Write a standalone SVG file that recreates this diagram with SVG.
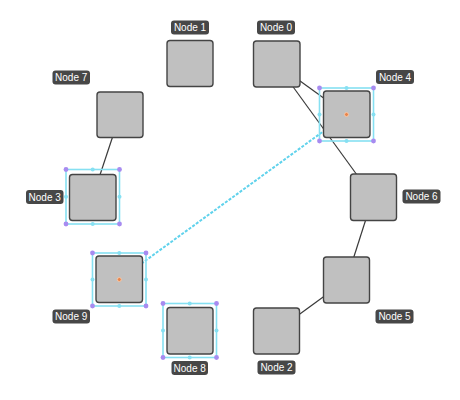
<svg xmlns="http://www.w3.org/2000/svg" width="460" height="400" viewBox="0 0 460 400">
<style>
.box{fill:#c0c0c0;stroke:#444;stroke-width:1.4}
.lbl{fill:#474747}
.lt{fill:#fff;font-family:"Liberation Sans",Arial,sans-serif;font-size:10px;text-anchor:middle}
.edge{stroke:#3a3a3a;stroke-width:1.2;fill:none}
.sel{fill:none;stroke:#86e0f2;stroke-width:1.6}
.corner{fill:#a78bf0}
.mid{fill:#86e0f2}
.ctr{fill:#e8844a;stroke:#f6c6a6;stroke-width:1}
</style>
<rect width="460" height="400" fill="#fff"/>
<g id="connectors">
<line class="edge" x1="276.5" y1="64" x2="346.5" y2="114.5"/>
<line class="edge" x1="276.5" y1="64" x2="373" y2="197"/>
<line class="edge" x1="373" y1="197" x2="346.5" y2="280"/>
<line class="edge" x1="346.5" y1="280" x2="276.5" y2="331"/>
<line class="edge" x1="120" y1="114.5" x2="92.5" y2="197.5"/>
<line x1="119.5" y1="279.5" x2="346.5" y2="114.5" stroke="#5fd2ec" stroke-width="2" stroke-dasharray="3 1.5"/>
</g>
<g id="node0">
<rect class="box" x="253.5" y="41" width="46.5" height="46" rx="3"/>
<rect class="lbl" x="257" y="20.5" width="38" height="14" rx="3"/>
<text class="lt" x="276" y="31">Node 0</text>
</g>
<g id="node1">
<rect class="box" x="167" y="40.5" width="46" height="46" rx="3"/>
<rect class="lbl" x="171" y="20.5" width="38" height="14" rx="3"/>
<text class="lt" x="190" y="31">Node 1</text>
</g>
<g id="node2">
<rect class="box" x="253.5" y="308" width="46" height="46" rx="3"/>
<rect class="lbl" x="257.5" y="360.5" width="38" height="14" rx="3"/>
<text class="lt" x="276.5" y="371">Node 2</text>
</g>
<g id="node3">
<rect class="box" x="69.5" y="174.5" width="46.5" height="46" rx="3"/>
<rect class="sel" x="66" y="169.5" width="53.5" height="54.5"/>
<circle class="mid" cx="92.7" cy="169.5" r="2"/>
<circle class="mid" cx="92.7" cy="224" r="2"/>
<circle class="mid" cx="66" cy="196.7" r="2"/>
<circle class="mid" cx="119.5" cy="196.7" r="2"/>
<circle class="corner" cx="66" cy="169.5" r="2.4"/>
<circle class="corner" cx="119.5" cy="169.5" r="2.4"/>
<circle class="corner" cx="66" cy="224" r="2.4"/>
<circle class="corner" cx="119.5" cy="224" r="2.4"/>
<rect class="lbl" x="26" y="190" width="37.5" height="14" rx="3"/>
<text class="lt" x="44.7" y="200.5">Node 3</text>
</g>
<g id="node4">
<rect class="box" x="323.5" y="91" width="46.5" height="46.5" rx="3"/>
<rect class="sel" x="319.5" y="88" width="54" height="53"/>
<circle class="mid" cx="346.5" cy="88" r="2"/>
<circle class="mid" cx="346.5" cy="141" r="2"/>
<circle class="mid" cx="319.5" cy="114.5" r="2"/>
<circle class="mid" cx="373.5" cy="114.5" r="2"/>
<circle class="corner" cx="319.5" cy="88" r="2.4"/>
<circle class="corner" cx="373.5" cy="88" r="2.4"/>
<circle class="corner" cx="319.5" cy="141" r="2.4"/>
<circle class="corner" cx="373.5" cy="141" r="2.4"/>
<circle class="ctr" cx="346.5" cy="114.5" r="2"/>
<rect class="lbl" x="376" y="70" width="38" height="14" rx="3"/>
<text class="lt" x="395" y="80.5">Node 4</text>
</g>
<g id="node5">
<rect class="box" x="323.5" y="257" width="46" height="46" rx="3"/>
<rect class="lbl" x="375.5" y="309.5" width="38" height="14" rx="3"/>
<text class="lt" x="394.5" y="320">Node 5</text>
</g>
<g id="node6">
<rect class="box" x="350.5" y="174" width="46" height="46.5" rx="3"/>
<rect class="lbl" x="402.5" y="189.5" width="38" height="14" rx="3"/>
<text class="lt" x="421.5" y="200">Node 6</text>
</g>
<g id="node7">
<rect class="box" x="97" y="92" width="46" height="45.5" rx="3"/>
<rect class="lbl" x="52.5" y="70.5" width="37.5" height="14" rx="3"/>
<text class="lt" x="71.2" y="81">Node 7</text>
</g>
<g id="node8">
<rect class="box" x="167" y="307.5" width="46" height="46.5" rx="3"/>
<rect class="sel" x="163" y="303.5" width="53.5" height="54"/>
<circle class="mid" cx="189.7" cy="303.5" r="2"/>
<circle class="mid" cx="189.7" cy="357.5" r="2"/>
<circle class="mid" cx="163" cy="330.5" r="2"/>
<circle class="mid" cx="216.5" cy="330.5" r="2"/>
<circle class="corner" cx="163" cy="303.5" r="2.4"/>
<circle class="corner" cx="216.5" cy="303.5" r="2.4"/>
<circle class="corner" cx="163" cy="357.5" r="2.4"/>
<circle class="corner" cx="216.5" cy="357.5" r="2.4"/>
<rect class="lbl" x="171.5" y="361" width="36.5" height="14" rx="3"/>
<text class="lt" x="189.7" y="371.5">Node 8</text>
</g>
<g id="node9">
<rect class="box" x="96" y="256" width="46.5" height="46.5" rx="3"/>
<rect class="sel" x="92.5" y="253" width="53.5" height="53"/>
<circle class="mid" cx="119.3" cy="253" r="2"/>
<circle class="mid" cx="119.3" cy="306" r="2"/>
<circle class="mid" cx="92.5" cy="279.5" r="2"/>
<circle class="mid" cx="146" cy="279.5" r="2"/>
<circle class="corner" cx="92.5" cy="253" r="2.4"/>
<circle class="corner" cx="146" cy="253" r="2.4"/>
<circle class="corner" cx="92.5" cy="306" r="2.4"/>
<circle class="corner" cx="146" cy="306" r="2.4"/>
<circle class="ctr" cx="119.3" cy="279.5" r="2"/>
<rect class="lbl" x="52.5" y="309.5" width="37.5" height="14" rx="3"/>
<text class="lt" x="71.2" y="320">Node 9</text>
</g>
</svg>
